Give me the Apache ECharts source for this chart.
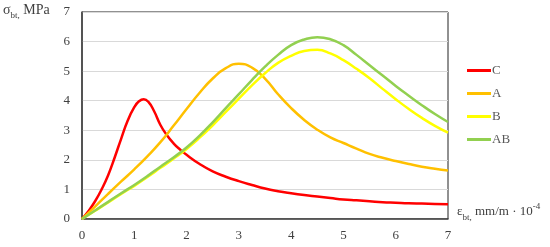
<!DOCTYPE html>
<html>
<head>
<meta charset="utf-8">
<script src="https://cdn.jsdelivr.net/npm/echarts@6/dist/echarts.min.js"></script>
<style>
  * { margin: 0; padding: 0; }
  #chart { width: 550px; height: 247px; background: #fff; }
</style>
</head>
<body>
<div id="chart"></div>
<script>
// values
const seriesNames = ['C', 'A', 'B', 'AB'];
const xTicks = [0, 1, 2, 3, 4, 5, 6, 7];
const yTicks = [0, 1, 2, 3, 4, 5, 6, 7];
const strain = [0, 0.25, 0.5, 0.75, 1, 1.25, 1.5, 1.75, 2, 2.25, 2.5, 2.75, 3, 3.25, 3.5, 3.75, 4, 4.25, 4.5, 4.75, 5, 5.25, 5.5, 5.75, 6, 6.25, 6.5, 6.75, 7];
// C has a sharp peak, so it is read more finely there
const strainC = [0, 0.125, 0.25, 0.375, 0.5, 0.625, 0.75, 0.875, 1, 1.09, 1.18, 1.27, 1.375, 1.5, 1.625, 1.75, 1.875, 2, 2.25, 2.5, 2.75, 3, 3.25, 3.5, 3.75, 4, 4.25, 4.5, 4.75, 5, 5.25, 5.5, 5.75, 6, 6.25, 6.5, 6.75, 7];

const stressC = [0, 0.27, 0.6, 1.0, 1.48, 2.08, 2.72, 3.33, 3.78, 3.98, 4.05, 3.96, 3.66, 3.18, 2.83, 2.56, 2.35, 2.17, 1.86, 1.61, 1.43, 1.28, 1.15, 1.03, 0.94, 0.87, 0.81, 0.76, 0.71, 0.66, 0.63, 0.6, 0.57, 0.55, 0.53, 0.52, 0.51, 0.5];
const stressA = [0, 0.42, 0.85, 1.27, 1.68, 2.12, 2.6, 3.15, 3.72, 4.27, 4.75, 5.1, 5.25, 5.12, 4.75, 4.22, 3.75, 3.35, 3.02, 2.76, 2.57, 2.38, 2.2, 2.07, 1.96, 1.86, 1.77, 1.7, 1.64];
const stressB = [0, 0.28, 0.56, 0.85, 1.12, 1.42, 1.73, 2.04, 2.37, 2.75, 3.17, 3.62, 4.07, 4.52, 4.93, 5.28, 5.52, 5.68, 5.72, 5.6, 5.37, 5.08, 4.76, 4.4, 4.05, 3.72, 3.42, 3.15, 2.92];
const stressAB = [0, 0.29, 0.58, 0.87, 1.15, 1.45, 1.77, 2.08, 2.42, 2.82, 3.27, 3.75, 4.22, 4.7, 5.15, 5.55, 5.88, 6.07, 6.15, 6.08, 5.88, 5.55, 5.2, 4.85, 4.5, 4.17, 3.85, 3.55, 3.28];

const colors = ['#ff0000', '#ffc000', '#ffff00', '#92d050'];
const font = 'Liberation Serif';

function pairs(xs, ys) {
  return xs.map((x, i) => [x, ys[i]]);
}

let myChart = echarts.init(document.getElementById('chart'));
myChart.setOption({
  animation: false,
  color: colors,
  textStyle: { fontFamily: font },
  grid: {
    left: 82, right: 102, top: 12, bottom: 28,
    show: true,
    borderColor: '#222',
    borderWidth: 1
  },
  legend: {
    orient: 'vertical',
    left: 462,
    top: 59,
    itemWidth: 24,
    itemHeight: 3,
    itemGap: 10,
    icon: 'rect',
    data: seriesNames,
    textStyle: { fontFamily: font, fontSize: 13, color: '#595959', padding: [0, 0, 0, -4] }
  },
  xAxis: {
    type: 'value',
    min: 0, max: 7, interval: 1,
    axisLine: { lineStyle: { color: '#404040', width: 1.5 } },
    axisTick: { show: false },
    splitLine: { show: false },
    axisLabel: { fontFamily: font, fontSize: 13, color: '#404040', margin: 10,
      formatter: v => xTicks.includes(v) ? String(v) : '' }
  },
  yAxis: {
    type: 'value',
    min: 0, max: 7, interval: 1,
    axisLine: { show: true, lineStyle: { color: '#404040', width: 1.5 } },
    axisTick: { show: false },
    splitLine: { lineStyle: { color: '#d9d9d9', width: 1 } },
    axisLabel: { fontFamily: font, fontSize: 13, color: '#404040', margin: 12,
      formatter: v => yTicks.includes(v) ? String(v) : '' }
  },
  graphic: [
    {
      type: 'text', left: 3, top: 3,
      style: {
        text: '{a|σ}{s|bt,}{a| MPa}',
        rich: {
          a: { fontFamily: font, fontSize: 14, fill: '#404040', lineHeight: 20 },
          s: { fontFamily: font, fontSize: 9, fill: '#404040', lineHeight: 20, verticalAlign: 'bottom' }
        }
      }
    },
    {
      type: 'text', left: 457, top: 202,
      style: {
        text: '{a|ε}{s|bt,}{a| mm/m · 10}{p|-4}',
        rich: {
          a: { fontFamily: font, fontSize: 13, fill: '#404040', lineHeight: 20 },
          s: { fontFamily: font, fontSize: 9, fill: '#404040', lineHeight: 20, verticalAlign: 'bottom' },
          p: { fontFamily: font, fontSize: 9, fill: '#404040', lineHeight: 20, verticalAlign: 'top' }
        }
      }
    }
  ],
  series: [
    { name: 'C', type: 'line', data: pairs(strainC, stressC), smooth: true, showSymbol: false, lineStyle: { width: 2.5 } },
    { name: 'A', type: 'line', data: pairs(strain, stressA), smooth: true, showSymbol: false, lineStyle: { width: 2.5 } },
    { name: 'B', type: 'line', data: pairs(strain, stressB), smooth: true, showSymbol: false, lineStyle: { width: 2.5 } },
    { name: 'AB', type: 'line', data: pairs(strain, stressAB), smooth: true, showSymbol: false, lineStyle: { width: 2.5 } }
  ]
});
</script>
</body>
</html>
